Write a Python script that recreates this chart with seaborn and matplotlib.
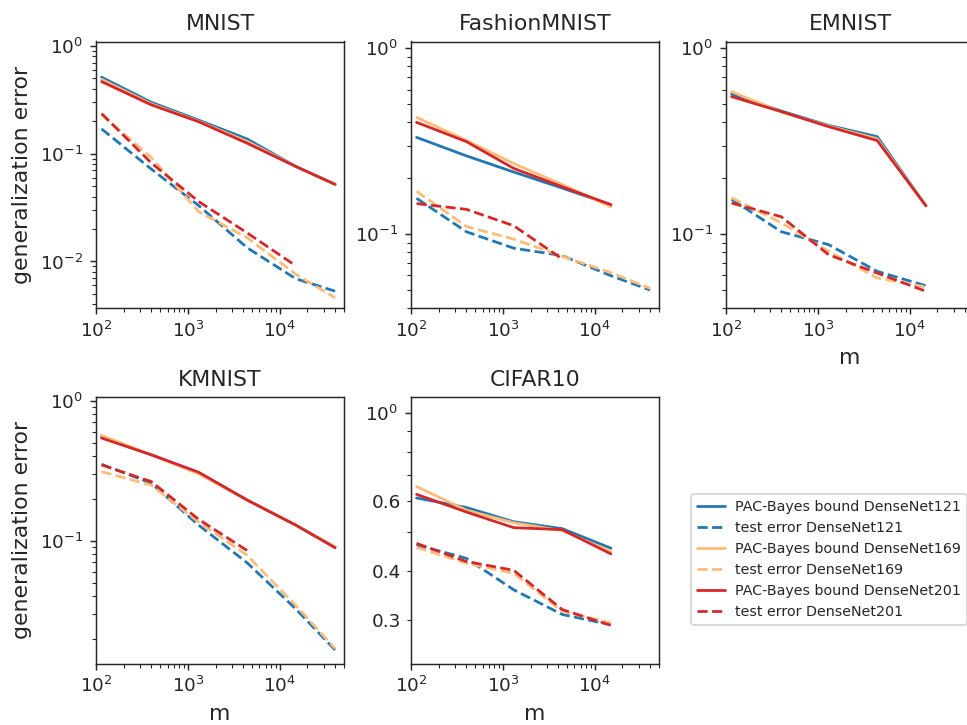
import matplotlib
matplotlib.use("Agg")
import matplotlib.pyplot as plt
from matplotlib.ticker import FuncFormatter
import seaborn as sns
import numpy as np

sns.set_style("ticks")
plt.rcParams['font.family'] = ['DejaVu Sans']

m_values = [115, 400, 1310, 4420, 15000, 40000]

datasets = ["MNIST", "FashionMNIST", "EMNIST", "KMNIST", "CIFAR10"]

# PAC-Bayes bounds / test errors per dataset, for DenseNet121, 169, 201
mnist_bound_121 = [0.513, 0.30, 0.205, 0.137, 0.076, 0.052]
mnist_bound_169 = [0.49, 0.29, 0.20, 0.13, 0.076, 0.052]
mnist_bound_201 = [0.467, 0.284, 0.198, 0.125, 0.076, 0.052]
mnist_test_121 = [0.170, 0.072, 0.033, 0.0134, 0.0069, 0.0053]
mnist_test_169 = [0.23, 0.092, 0.029, 0.0166, 0.0076, 0.0046]
mnist_test_201 = [0.236, 0.082, 0.036, 0.0184, 0.0091]

fashion_bound_121 = [0.332, 0.264, 0.216, 0.177, 0.144]
fashion_bound_169 = [0.425, 0.32, 0.24, 0.185, 0.14]
fashion_bound_201 = [0.40, 0.315, 0.226, 0.18, 0.144]
fashion_test_121 = [0.156, 0.103, 0.084, 0.0766, 0.0597, 0.050]
fashion_test_169 = [0.17, 0.11, 0.094, 0.076, 0.062, 0.051]
fashion_test_201 = [0.146, 0.136, 0.111, 0.0735]

emnist_bound_121 = [0.568, 0.46, 0.385, 0.335, 0.142]
emnist_bound_169 = [0.585, 0.455, 0.382, 0.326, 0.142]
emnist_bound_201 = [0.55, 0.457, 0.379, 0.319, 0.142]
emnist_test_121 = [0.154, 0.103, 0.0877, 0.063, 0.0527]
emnist_test_169 = [0.157, 0.115, 0.0807, 0.058, 0.0519]
emnist_test_201 = [0.147, 0.124, 0.0774, 0.0617, 0.0492]

kmnist_bound_121 = [0.55, 0.41, 0.305, 0.195, 0.129, 0.09]
kmnist_bound_169 = [0.564, 0.41, 0.30, 0.195, 0.129, 0.09]
kmnist_bound_201 = [0.54, 0.41, 0.308, 0.195, 0.129, 0.089]
kmnist_test_121 = [0.351, 0.257, 0.129, 0.0695, 0.0325, 0.0166]
kmnist_test_169 = [0.311, 0.249, 0.136, 0.0785, 0.0344, 0.017]
kmnist_test_201 = [0.347, 0.264, 0.142, 0.085]

cifar_bound_121 = [0.611, 0.578, 0.532, 0.511, 0.456]
cifar_bound_169 = [0.653, 0.569, 0.529, 0.505, 0.447]
cifar_bound_201 = [0.624, 0.563, 0.514, 0.508, 0.441]
cifar_test_121 = [0.465, 0.43, 0.358, 0.31, 0.292]
cifar_test_169 = [0.458, 0.418, 0.394, 0.316, 0.295]
cifar_test_201 = [0.469, 0.422, 0.401, 0.319, 0.291]

series = {
    "MNIST": [mnist_bound_121, mnist_test_121, mnist_bound_169, mnist_test_169, mnist_bound_201, mnist_test_201],
    "FashionMNIST": [fashion_bound_121, fashion_test_121, fashion_bound_169, fashion_test_169, fashion_bound_201, fashion_test_201],
    "EMNIST": [emnist_bound_121, emnist_test_121, emnist_bound_169, emnist_test_169, emnist_bound_201, emnist_test_201],
    "KMNIST": [kmnist_bound_121, kmnist_test_121, kmnist_bound_169, kmnist_test_169, kmnist_bound_201, kmnist_test_201],
    "CIFAR10": [cifar_bound_121, cifar_test_121, cifar_bound_169, cifar_test_169, cifar_bound_201, cifar_test_201],
}

labels = ["PAC-Bayes bound DenseNet121", "test error DenseNet121",
          "PAC-Bayes bound DenseNet169", "test error DenseNet169",
          "PAC-Bayes bound DenseNet201", "test error DenseNet201"]
colors = ["#1f77b4", "#1f77b4", "#ffbb78", "#ffbb78", "#d62728", "#d62728"]
styles = ["-", "--", "-", "--", "-", "--"]

ylims = {
    "MNIST": (0.0037, 1.1),
    "FashionMNIST": (0.04, 1.09),
    "EMNIST": (0.04, 1.09),
    "KMNIST": (0.0133, 1.06),
    "CIFAR10": (0.233, 1.1),
}

W, H = 967, 725
DPI = 132
fig = plt.figure(figsize=(W / DPI, H / DPI), dpi=DPI)
fig.patch.set_facecolor("white")

col_left = [96, 411, 726]
row_top = [41.5, 397]
aw, ah = 248, 266.5
positions = [(0, 0), (0, 1), (0, 2), (1, 0), (1, 1)]


def minor_fmt(v, pos):
    for t in (0.3, 0.4, 0.6):
        if abs(v - t) < 1e-6:
            return "%g" % t
    return ""


handles = []
for i, name in enumerate(datasets):
    r, c = positions[i]
    ax = fig.add_axes([col_left[c] / W, 1 - (row_top[r] + ah) / H, aw / W, ah / H])
    for j, ys in enumerate(series[name]):
        sns.lineplot(x=m_values[:len(ys)], y=ys, color=colors[j], linestyle=styles[j],
                     linewidth=1.5, ax=ax, legend=False)
    ax.set_xscale("log")
    ax.set_yscale("log")
    ax.set_xlim(100, 50000)
    ax.set_ylim(*ylims[name])
    if name == "CIFAR10":
        ax.yaxis.set_minor_formatter(FuncFormatter(minor_fmt))
    ax.set_title(name, fontsize=12)
    if c == 0:
        ax.set_ylabel("generalization error", fontsize=12)
    if r == 1 or c == 2:
        ax.set_xlabel("m", fontsize=12)
    ax.tick_params(which="both", labelsize=10)
    if i == 0:
        handles = ax.get_lines()

fig.legend(handles, labels, loc="upper left", bbox_to_anchor=(691 / W, 1 - 494 / H),
           fontsize=7.8, frameon=True, handlelength=2.0, handletextpad=0.7,
           borderaxespad=0.0)

fig.savefig("out.png", dpi=DPI)
